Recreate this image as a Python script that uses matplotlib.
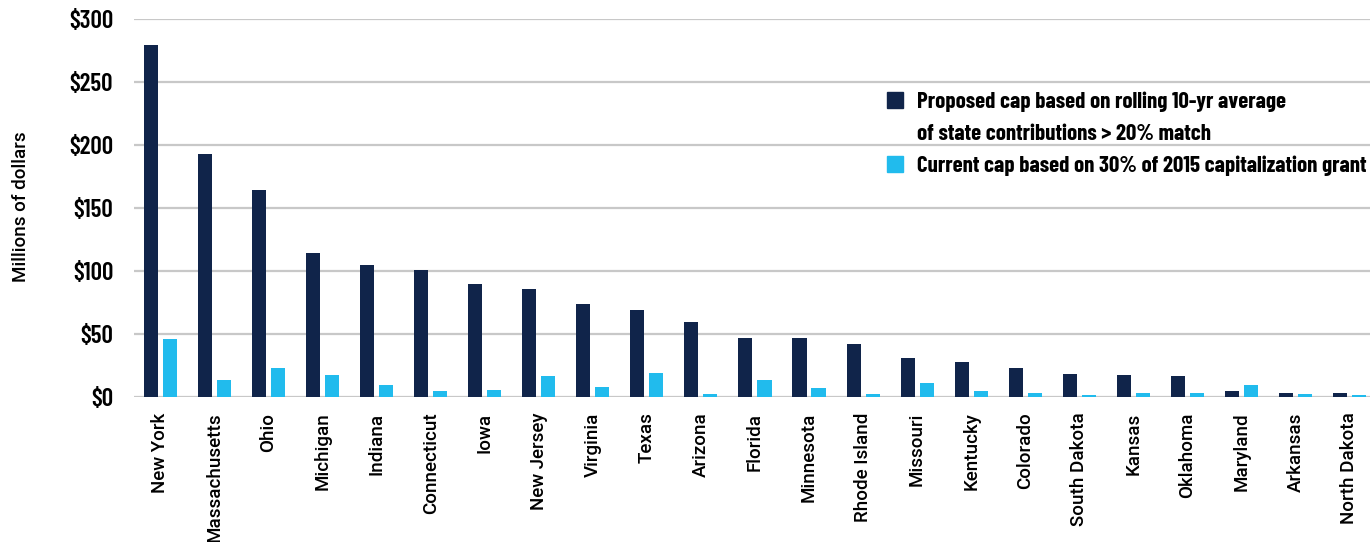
import numpy as np
import matplotlib
matplotlib.use("Agg")
import matplotlib.pyplot as plt
from matplotlib import font_manager
from matplotlib.patches import Patch

states = ["New York", "Massachusetts", "Ohio", "Michigan", "Indiana", "Connecticut",
          "Iowa", "New Jersey", "Virginia", "Texas", "Arizona", "Florida", "Minnesota",
          "Rhode Island", "Missouri", "Kentucky", "Colorado", "South Dakota", "Kansas",
          "Oklahoma", "Maryland", "Arkansas", "North Dakota"]
proposed_cap = [279.4, 193.0, 164.4, 114.5, 104.9, 101.0, 89.5, 85.5, 73.7, 68.9,
                59.5, 46.8, 46.8, 42.1, 31.0, 27.9, 23.2, 18.4, 17.6, 16.8, 5.0, 3.4, 3.4]
current_cap = [46.3, 13.7, 23.3, 17.7, 9.8, 5.0, 5.8, 16.8, 8.2, 19.2,
               2.6, 13.7, 7.4, 2.6, 11.3, 5.0, 3.4, 1.8, 3.4, 3.4, 9.7, 2.6, 1.8]
y_ticks = [0, 50, 100, 150, 200, 250, 300]
legend_lines = ["Proposed cap based on rolling 10-yr average",
                "of state contributions > 20% match",
                "Current cap based on 30% of 2015 capitalization grant"]


def pick_font(candidates):
    installed = {f.name for f in font_manager.fontManager.ttflist}
    for c in candidates:
        if c in installed:
            return c
    return "DejaVu Sans"


condensed = pick_font(["Barlow Condensed", "Roboto Condensed", "Archivo Narrow",
                       "Liberation Sans Narrow", "Roboto"])
plain = pick_font(["Roboto", "Liberation Sans", "DejaVu Sans"])
plt.rcParams['font.family'] = [plain, 'DejaVu Sans']

dark = "#10244a"
light = "#21bbed"

fig = plt.figure(figsize=(13.7, 5.42), dpi=100)
ax = fig.add_axes([0.0978, 0.267, 0.9022, 0.698])

x = np.arange(len(states))
w = 0.26
ax.bar(x - 0.176, proposed_cap, width=w, color=dark, zorder=3)
ax.bar(x + 0.176, current_cap, width=w, color=light, zorder=3)

ax.set_xlim(-0.49, len(states) - 1 + 0.38)
ax.set_ylim(0, 300)
ax.set_yticks(y_ticks)
ax.set_yticklabels([f"${v}" for v in y_ticks], fontsize=18, fontweight="semibold",
                   family=[condensed, "DejaVu Sans"])
ax.set_xticks(x)
ax.set_xticklabels(states, rotation=90, fontsize=13.5, fontweight="medium", va="top")
ax.tick_params(axis="both", length=0)
ax.tick_params(axis="y", pad=15)
ax.tick_params(axis="x", pad=11)
for s in ax.spines.values():
    s.set_visible(False)
ax.grid(axis="y", color="#c8c8c8", linewidth=1.6, zorder=0)
ax.set_axisbelow(True)

fig.text(0.0155, 0.618, "Millions of dollars", rotation=90, fontsize=13.5,
         fontweight="medium", ha="center", va="center")

# second line of the first label gets an empty handle so the square sits on line one
handles = [Patch(color=dark), Patch(color="none"), Patch(color=light)]
leg = ax.legend(handles, legend_lines, loc="upper left",
                bbox_to_anchor=(866 / 1370, 1 - 71 / 542),
                bbox_transform=fig.transFigure, frameon=False,
                prop={"size": 16.5, "weight": "bold", "family": [condensed, "DejaVu Sans"]},
                handlelength=0.72, handleheight=0.72, handletextpad=0.6,
                labelspacing=0.5)

fig.savefig("out.png", dpi=100)
